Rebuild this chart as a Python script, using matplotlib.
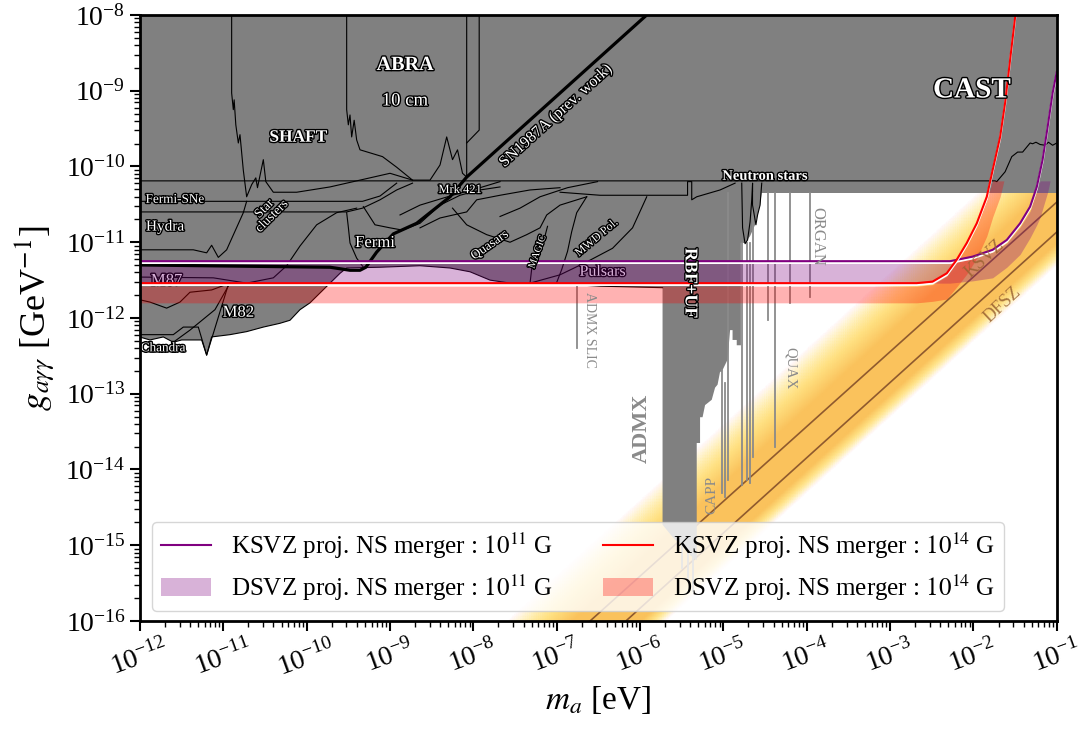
import numpy as np
import matplotlib.pyplot as plt
import matplotlib.patheffects as pe
from matplotlib.colors import LinearSegmentedColormap
from matplotlib.lines import Line2D
from matplotlib.patches import Patch
from matplotlib.ticker import LogLocator, NullFormatter

plt.rcParams['font.family'] = ['Liberation Serif', 'DejaVu Serif']
plt.rcParams['mathtext.fontset'] = 'stix'

# -------- DATA (log10 m_a [eV], log10 g [GeV^-1]) --------
# lower edge of the excluded region, haloscope part (right -> left)
halo_edge = [(-0.9, -10.35), (-4.54, -10.35), (-4.56, -10.51), (-4.62, -10.77), (-4.68, -10.92),
             (-4.74, -11.01), (-4.79, -11.01), (-4.79, -12.36), (-4.84, -12.36), (-4.84, -12.29),
             (-4.89, -12.29), (-4.89, -12.16), (-4.92, -12.16), (-4.95, -12.55), (-5.02, -12.71),
             (-5.04, -12.71), (-5.07, -12.88), (-5.10, -12.92), (-5.14, -13.08), (-5.22, -13.15),
             (-5.25, -13.31), (-5.28, -13.31), (-5.28, -13.65), (-5.32, -13.65), (-5.32, -15.20),
             (-5.40, -15.13), (-5.46, -15.00), (-5.58, -14.93), (-5.73, -14.73)]
# lower edge of the astrophysical bounds (right -> left)
astro_edge = [(-5.73, -11.60), (-6.48, -11.58), (-6.96, -11.55), (-7.56, -11.54), (-7.80, -11.50),
              (-8.04, -11.39), (-8.28, -11.34), (-8.64, -11.31), (-9.12, -11.33), (-9.52, -11.34),
              (-9.60, -11.41), (-9.72, -11.54), (-9.84, -11.67), (-9.96, -11.80), (-10.08, -11.89),
              (-10.20, -12.03), (-10.32, -12.07), (-10.52, -12.12), (-10.72, -12.18), (-10.92, -12.22),
              (-11.14, -12.25), (-11.20, -12.49), (-11.26, -12.29), (-11.50, -12.29), (-11.60, -12.32),
              (-11.72, -12.25), (-11.88, -12.29), (-12.1, -12.22)]

cast_line = [(-12.0, -10.19), (-1.74, -10.19), (-1.72, -10.20), (-1.62, -10.07), (-1.54, -9.87),
             (-1.47, -9.81), (-1.41, -9.81), (-1.32, -9.69), (-1.29, -9.70), (-1.25, -9.68),
             (-1.20, -9.71), (-1.14, -9.72), (-1.10, -9.68), (-1.05, -9.72), (-1.0, -9.69)]
shaft_line = [(-10.90, -8.0), (-10.90, -9.03), (-10.88, -9.25), (-10.87, -9.12), (-10.85, -9.45),
              (-10.82, -9.69), (-10.80, -9.58), (-10.76, -10.05), (-10.72, -10.40), (-10.66, -10.24),
              (-10.61, -10.15), (-10.59, -10.28), (-10.52, -9.91), (-10.49, -10.20), (-10.40, -10.34),
              (-10.12, -10.34), (-9.72, -10.27), (-9.00, -10.09), (-8.73, -10.18)]
abra_line = [(-9.52, -8.0), (-9.52, -9.25), (-9.50, -9.45), (-9.48, -9.32), (-9.46, -9.61),
             (-9.43, -9.39), (-9.40, -9.65), (-9.36, -9.78), (-9.09, -9.87), (-8.92, -10.01),
             (-8.73, -10.18), (-8.52, -10.18), (-8.40, -9.98), (-8.32, -9.61), (-8.25, -9.91),
             (-8.19, -9.78), (-8.13, -10.09), (-8.08, -10.14), (-8.08, -8.0)]
abra_edge = [(-7.93, -8.0), (-7.93, -9.52), (-8.08, -9.69)]
sn1987a_line = [(-12.0, -11.30), (-9.72, -11.33), (-9.48, -11.37), (-9.36, -11.37), (-9.29, -11.33),
                (-9.16, -11.13), (-8.96, -10.89), (-8.68, -10.75), (-8.28, -10.40), (-8.08, -10.14),
                (-5.92, -8.0)]
fermi_sne_line = [(-12.0, -10.46), (-9.33, -10.46), (-9.12, -10.39), (-8.92, -10.22)]
hydra_line = [(-12.0, -10.60), (-9.52, -10.60), (-9.33, -10.55), (-9.12, -10.44), (-8.92, -10.31),
              (-8.73, -10.22)]
star_clusters_line = [(-12.0, -11.10), (-11.36, -11.10), (-11.20, -11.14), (-11.14, -11.04),
                      (-11.06, -11.20), (-10.96, -11.10), (-10.76, -10.61), (-10.72, -10.46)]
m87_line = [(-12.0, -11.46), (-11.12, -11.47), (-10.72, -11.54), (-10.40, -11.47), (-10.24, -11.31),
            (-10.08, -11.05), (-9.88, -10.77), (-9.64, -10.61), (-9.40, -10.55)]
m87_low_line = [(-12.0, -11.76), (-11.88, -11.79), (-11.68, -11.87), (-11.52, -11.79), (-11.40, -11.66),
                (-11.14, -11.63), (-10.92, -11.54)]
chandra_line = [(-12.0, -12.22), (-11.60, -12.22), (-11.48, -12.12), (-11.30, -12.12), (-11.20, -12.49),
                (-10.94, -11.56)]
m82_line = [(-11.60, -12.32), (-11.40, -12.16), (-11.10, -11.89), (-10.92, -11.54)]
fermi_line = [(-9.52, -10.61), (-9.50, -10.80), (-9.48, -11.01), (-9.40, -11.21), (-9.32, -11.33)]
fermi_top_line = [(-9.32, -10.53), (-9.18, -10.77), (-9.00, -10.81), (-8.85, -10.84), (-8.64, -10.75),
                  (-8.40, -10.51), (-8.16, -10.38), (-7.92, -10.31), (-7.68, -10.27)]
mrk421_line = [(-8.88, -10.64), (-8.64, -10.51), (-8.25, -10.38), (-7.92, -10.28), (-7.68, -10.20)]
mrk421_low_line = [(-8.64, -10.81), (-8.40, -10.68), (-8.08, -10.60), (-7.96, -10.44), (-7.68, -10.38),
                   (-7.32, -10.31), (-6.96, -10.28)]
quasars_line = [(-8.25, -10.55), (-8.08, -10.77), (-7.84, -10.90), (-7.56, -11.00), (-7.36, -10.90),
                (-7.20, -10.81), (-7.12, -10.64), (-6.96, -10.51), (-6.64, -10.40)]
magic_line = [(-6.64, -10.40), (-6.76, -10.61), (-6.82, -10.86), (-6.87, -11.12), (-6.94, -11.36),
              (-7.00, -11.53)]
magic_left_line = [(-7.11, -10.79), (-7.17, -11.04), (-7.29, -11.26), (-7.32, -11.54)]
mwd_line = [(-5.92, -10.40), (-6.09, -10.81), (-6.33, -11.08), (-6.64, -11.26), (-6.96, -11.43),
            (-7.32, -11.54)]
mwd_top_line = [(-6.51, -10.20), (-6.87, -10.28), (-7.20, -10.40), (-7.44, -10.55), (-7.68, -10.66)]
ns_line = [(-6.96, -10.34), (-6.48, -10.38), (-5.43, -10.38), (-5.43, -10.20), (-5.38, -10.20),
           (-5.38, -10.44), (-5.32, -10.40), (-5.04, -10.31), (-4.86, -10.22)]
ns_spikes = [(-4.78, -10.22), (-4.77, -10.81), (-4.74, -11.02), (-4.71, -10.97), (-4.68, -10.73),
             (-4.66, -10.44), (-4.65, -10.22), (-4.65, -10.51), (-4.61, -10.77), (-4.59, -10.64),
             (-4.56, -10.51), (-4.54, -10.22)]

# individual haloscope limits: (log m, log g top, log g bottom)
halo_lines = [(-5.02, -12.69, -14.31), (-4.98, -12.86, -14.36), (-4.95, -10.35, -14.14),
              (-4.78, -11.01, -14.20), (-4.72, -11.01, -14.14), (-4.68, -11.01, -14.18),
              (-4.65, -10.35, -13.83), (-4.47, -10.35, -12.03), (-4.38, -10.35, -13.70),
              (-4.20, -10.35, -11.80), (-3.96, -10.35, -11.72), (-6.76, -11.56, -12.40),
              (-5.36, -15.10, -15.60), (-5.42, -15.00, -15.45), (-5.50, -14.95, -15.30)]

# QCD axion lines (two end points each)
ksvz_logm = [-6.60, -1.0]
ksvz_logg = [-16.0, -10.47]
dfsz_logm = [-6.16, -1.0]
dfsz_logg = [-15.99, -10.865]
# QCD band in log10(g/m): solid core and faded outer edges
qcd_core = (-10.0, -9.2)
qcd_outer = (-10.3, -8.4)

# projected NS merger sensitivities
k11_logm = [-12.0, -2.28, -2.01, -1.77, -1.60, -1.44, -1.32, -1.24, -1.17, -1.11, -1.05, -1.0]
k11_logg = [-11.25, -11.25, -11.19, -11.10, -10.97, -10.75, -10.53, -10.27, -9.91, -9.48, -9.03, -8.75]
d11_logm = [-12.0, -2.28, -2.01, -1.77, -1.60, -1.44, -1.32, -1.24, -1.20, -1.11, -1.08]
d11_hi = [-11.27, -11.27, -11.21, -11.13, -11.01, -10.80, -10.59, -10.32, -10.19, -10.19, -10.19]
d11_lo = [-11.54, -11.54, -11.51, -11.47, -11.33, -11.16, -10.94, -10.77, -10.67, -10.34, -10.19]
k14_logm = [-12.0, -2.68, -2.49, -2.32, -2.20, -2.08, -1.96, -1.84, -1.77, -1.68, -1.62, -1.56, -1.50, -1.49]
k14_logg = [-11.54, -11.54, -11.52, -11.41, -11.23, -11.01, -10.75, -10.40, -10.05, -9.61, -9.16, -8.59,
            -8.03, -7.93]
d14_logm = [-12.0, -2.88, -2.68, -2.49, -2.32, -2.20, -2.08, -1.96, -1.84, -1.77, -1.68, -1.635]
d14_hi = [-11.58, -11.58, -11.58, -11.56, -11.45, -11.27, -11.05, -10.79, -10.44, -10.19, -10.19, -10.19]
d14_lo = [-11.80, -11.80, -11.80, -11.78, -11.75, -11.59, -11.42, -11.21, -10.92, -10.67, -10.40, -10.19]

GRAY = '#808080'
BROWN = '#8f5a2e'
OUT = [pe.withStroke(linewidth=2, foreground='black')]


def P(pts):
    a = np.array(pts)
    return 10 ** a[:, 0], 10 ** a[:, 1]


fig = plt.figure(figsize=(10.85, 7.3), dpi=100)
ax = fig.add_axes([0.129, 0.1493, 0.845, 0.8302])
ax.set_xscale('log')
ax.set_yscale('log')
ax.set_xlim(1e-12, 1e-1)
ax.set_ylim(1e-16, 1e-8)

# QCD band (gradient)
lm = np.linspace(-12, -1, 500)
lg = np.linspace(-16, -8, 400)
LM, LG = np.meshgrid(lm, lg)
C = LG - LM
w = np.ones_like(C)
w = np.where(C > qcd_core[1], 1 - (C - qcd_core[1]) / (qcd_outer[1] - qcd_core[1]), w)
w = np.where(C < qcd_core[0], 1 - (qcd_core[0] - C) / (qcd_core[0] - qcd_outer[0]), w)
w = np.clip(w, 0, 1) ** 1.2
cmap = LinearSegmentedColormap.from_list(
    'qcd', [(1.0, 0.97, 0.7, 0.0), (1.0, 0.88, 0.5, 0.6), (0.98, 0.76, 0.36, 1.0)])
ax.pcolormesh(10 ** LM, 10 ** LG, w, cmap=cmap, vmin=0, vmax=1, shading='gouraud', zorder=1)
ax.plot(10 ** np.array(ksvz_logm), 10 ** np.array(ksvz_logg), color=BROWN, lw=1.2, zorder=2)
ax.plot(10 ** np.array(dfsz_logm), 10 ** np.array(dfsz_logg), color=BROWN, lw=1.2, zorder=2)

# excluded region
poly = [(-12.1, -7.9), (-0.9, -7.9)] + halo_edge + astro_edge
px, py = P(poly)
ax.fill(px, py, color=GRAY, lw=0, zorder=3)
ax.plot(*P(astro_edge), color='black', lw=0.8, zorder=4)

for m, gt, gb in halo_lines:
    ax.plot([10 ** m, 10 ** m], [10 ** gt, 10 ** gb], color='#8a8a8a', lw=1.3, zorder=4)

for line in [cast_line, shaft_line, abra_line, abra_edge, fermi_sne_line, hydra_line,
             star_clusters_line, m87_line, m87_low_line, chandra_line, m82_line, fermi_line,
             fermi_top_line, mrk421_line, mrk421_low_line, quasars_line, magic_line,
             magic_left_line, mwd_line, mwd_top_line, ns_line, ns_spikes]:
    ax.plot(*P(line), color='black', lw=0.8, zorder=4)

ax.plot(*P(sn1987a_line), color='black', lw=2.3, zorder=7)

# labels below the projection bands
ax.text(10 ** -11.68, 10 ** -11.51, 'M87', color='white', fontsize=12, ha='center', va='center',
        path_effects=OUT, zorder=5)
ax.text(10 ** -6.45, 10 ** -11.39, 'Pulsars', color='white', fontsize=11.5, ha='center', va='center',
        path_effects=OUT, zorder=5)

# projection bands and lines
shadow = [pe.SimpleLineShadow(offset=(0, -1.3), shadow_color='white', alpha=1.0), pe.Normal()]
ax.fill_between(10 ** np.array(d11_logm), 10 ** np.array(d11_lo), 10 ** np.array(d11_hi),
                color='purple', alpha=0.3, lw=0, zorder=6)
ax.fill_between(10 ** np.array(d14_logm), 10 ** np.array(d14_lo), 10 ** np.array(d14_hi),
                color='red', alpha=0.3, lw=0, zorder=6)
ax.plot(10 ** np.array(k11_logm), 10 ** np.array(k11_logg), color='purple', lw=1.5,
        path_effects=shadow, zorder=8)
ax.plot(10 ** np.array(k14_logm), 10 ** np.array(k14_logg), color='red', lw=1.5,
        path_effects=shadow, zorder=8)

# white labels
white_labels = [
    ('SHAFT', -10.10, -9.62, 12.5, 0, 'bold'),
    ('ABRA', -8.82, -8.66, 14.5, 0, 'bold'),
    ('10 cm', -8.82, -9.135, 13.5, 0, 'normal'),
    ('CAST', -2.02, -8.99, 21, 0, 'bold'),
    ('Neutron stars', -4.50, -10.13, 10.5, 0, 'bold'),
    ('Fermi-SNe', -11.58, -10.44, 9.5, 0, 'normal'),
    ('Hydra', -11.70, -10.80, 11, 0, 'normal'),
    ('Star\nclusters', -10.46, -10.61, 9.5, 45, 'normal'),
    ('Fermi', -9.18, -11.01, 12, 0, 'normal'),
    ('Mrk 421', -8.16, -10.31, 9, 0, 'normal'),
    ('Quasars', -7.80, -11.04, 9.5, 35, 'normal'),
    ('MAGIC', -7.23, -11.13, 7.5, 70, 'normal'),
    ('MWD Pol.', -6.52, -10.94, 8.5, 40, 'normal'),
    ('M82', -10.82, -11.93, 12, 0, 'normal'),
    ('Chandra', -11.72, -12.40, 9.5, 0, 'normal'),
    ('RBF+UF', -5.40, -11.54, 13, -90, 'bold'),
    ('SN1987A (prev. work)', -7.01, -9.33, 11.5, 42, 'normal'),
]
for s, m, g, fs, rot, fw in white_labels:
    ax.text(10 ** m, 10 ** g, s, color='white', fontsize=fs, rotation=rot, fontweight=fw,
            ha='center', va='center', linespacing=0.85, path_effects=OUT, zorder=9)

gray_labels = [
    ('ADMX', -5.98, -13.45, 16, 90, 'bold'),
    ('ADMX SLIC', -6.61, -12.16, 10, -90, 'normal'),
    ('CAPP', -5.14, -14.34, 11, 90, 'normal'),
    ('QUAX', -4.20, -12.66, 10.5, -90, 'normal'),
    ('ORGAN', -3.87, -10.93, 12, -90, 'normal'),
]
for s, m, g, fs, rot, fw in gray_labels:
    ax.text(10 ** m, 10 ** g, s, color='#8a8a8a', fontsize=fs, rotation=rot, fontweight=fw,
            ha='center', va='center', zorder=9)

ax.text(10 ** -1.86, 10 ** -11.21, 'KSVZ', color='#9a6232', fontsize=13, rotation=43,
        ha='center', va='center', alpha=0.85, zorder=9)
ax.text(10 ** -1.65, 10 ** -11.83, 'DFSZ', color='#9a6232', fontsize=13, rotation=43,
        ha='center', va='center', alpha=0.85, zorder=9)

# axes styling
ax.xaxis.set_major_locator(LogLocator(base=10, numticks=20))
ax.yaxis.set_major_locator(LogLocator(base=10, numticks=20))
ax.xaxis.set_minor_locator(LogLocator(base=10, subs=np.arange(2, 10), numticks=200))
ax.yaxis.set_minor_locator(LogLocator(base=10, subs=np.arange(2, 10), numticks=200))
ax.xaxis.set_minor_formatter(NullFormatter())
ax.yaxis.set_minor_formatter(NullFormatter())
ax.tick_params(which='major', length=7, width=1.5, labelsize=20, direction='out')
ax.tick_params(which='minor', length=4, width=1.0, direction='out')
ax.tick_params(axis='x', labelrotation=20)
for sp in ax.spines.values():
    sp.set_linewidth(2)
    sp.set_zorder(12)

ax.set_xlabel(r'$m_a$ [eV]', fontsize=24, labelpad=2)
ax.set_ylabel(r'$g_{a\gamma\gamma}$ [GeV$^{-1}$]', fontsize=26, labelpad=6)

handles = [
    Line2D([], [], color='purple', lw=1.5),
    Patch(facecolor='purple', alpha=0.3, edgecolor='none'),
    Line2D([], [], color='red', lw=1.5),
    Patch(facecolor='red', alpha=0.3, edgecolor='none'),
]
labels = [r'KSVZ proj. NS merger : $10^{11}$ G', r'DSVZ proj. NS merger : $10^{11}$ G',
          r'KSVZ proj. NS merger : $10^{14}$ G', r'DSVZ proj. NS merger : $10^{14}$ G']
leg = ax.legend(handles, labels, loc='lower left', bbox_to_anchor=(0.013, 0.016), ncol=2,
                fontsize=18, handlelength=2.0, handletextpad=0.8, columnspacing=2.0,
                framealpha=0.8, borderpad=0.35, labelspacing=0.45, borderaxespad=0)
leg.set_zorder(11)

fig.savefig('out.png', dpi=100)
